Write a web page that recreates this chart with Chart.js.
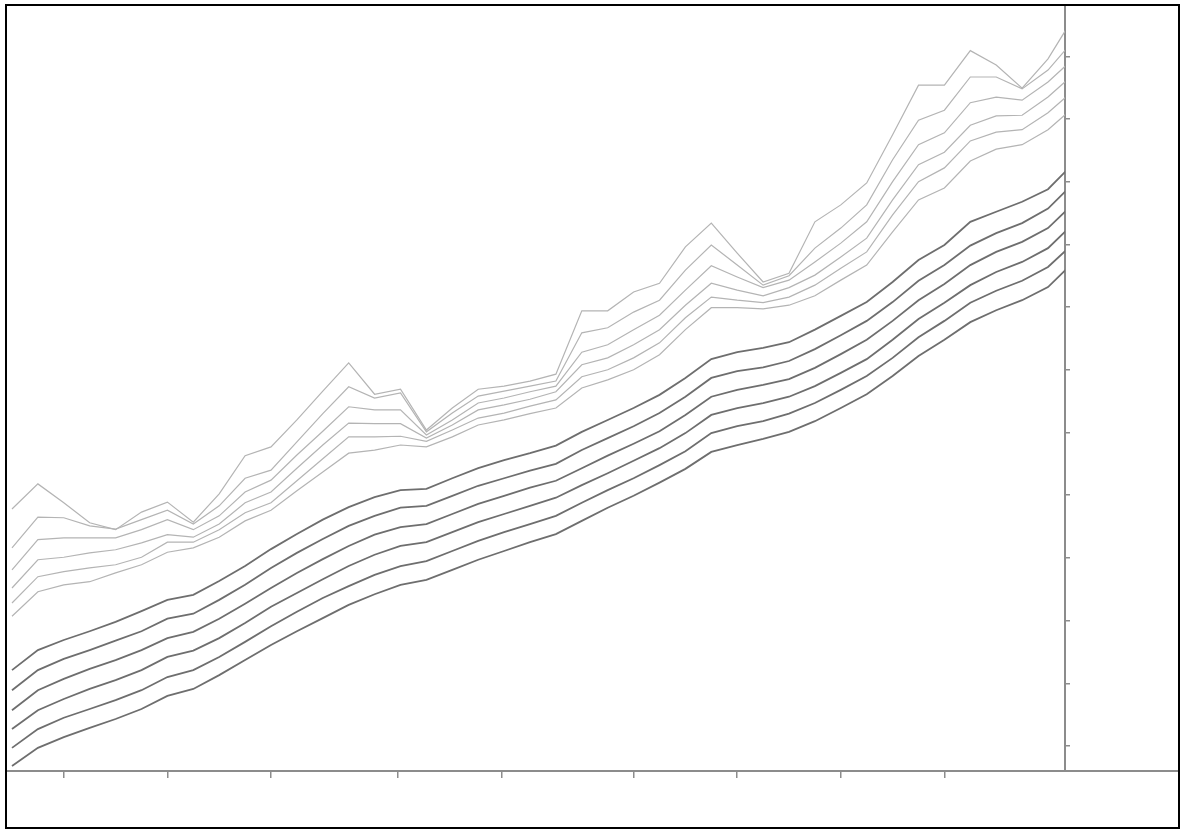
<!DOCTYPE html>
<html>
<head>
<meta charset="utf-8">
<script src="https://cdn.jsdelivr.net/npm/chart.js@4/dist/chart.umd.min.js"></script>
<style>
  html, body { margin: 0; padding: 0; background: #ffffff; }
  canvas { display: block; }
</style>
</head>
<body>
<canvas id="c" width="1181" height="830"></canvas>
<script>
// Period index (0..41) – the last period runs past the right axis and is clipped
const periods = Array.from({length: 42}, (_, i) => i);

// Tick positions on the period axis and the value axis (no labels in the source)
const xTickValues = [2, 6, 10, 14.9, 18.9, 24, 28, 32, 36];
const yTickValues = [10, 20, 30, 40, 50, 60, 70, 80, 90, 100, 110, 120];

// Upper (light) band lines, highest first
const upper1 = [47.8,51.8,48.8,45.6,44.5,47.3,48.9,45.7,50.2,56.3,57.7,62.0,66.6,71.1,66.1,66.9,60.4,63.9,66.9,67.4,68.2,69.3,79.4,79.4,82.4,83.8,89.6,93.4,88.6,84.0,85.4,93.6,96.3,99.8,107.5,115.4,115.4,120.9,118.6,114.9,119.6,126.3];
const upper2 = [41.6,46.5,46.4,45.1,44.6,46.1,47.6,45.4,48.3,52.7,54.0,58.5,63.0,67.3,65.5,66.3,60.1,63.1,65.8,66.6,67.4,68.2,75.9,76.7,79.2,81.1,85.9,89.9,86.7,83.5,85.0,89.4,92.6,96.3,103.5,109.8,111.4,116.7,116.7,114.8,117.8,122.6];
const upper3 = [38.1,42.9,43.2,43.2,43.2,44.5,46.1,44.5,46.7,50.5,52.4,56.4,60.2,64.1,63.6,63.6,59.6,62.0,64.7,65.5,66.5,67.4,72.8,74.0,76.4,78.7,82.7,86.6,84.8,83.1,84.3,87.2,90.2,93.6,100.0,105.9,107.8,112.6,113.5,113.0,115.9,119.7];
const upper4 = [35.2,39.7,40.1,40.8,41.3,42.4,43.7,43.3,45.4,48.8,50.5,54.3,58.0,61.5,61.4,61.4,59.1,61.2,63.6,64.4,65.3,66.5,70.8,71.9,74.0,76.4,80.3,83.8,82.7,81.8,83.1,85.1,88.0,91.0,97.1,102.7,104.7,109.0,110.5,110.6,113.5,117.2];
const upper5 = [32.8,37.0,37.8,38.4,38.9,40.1,42.5,42.5,44.5,47.2,48.8,52.3,55.8,59.3,59.3,59.4,58.6,60.4,62.3,63.1,64.2,65.2,68.9,70.0,71.9,74.3,78.3,81.6,81.1,80.7,81.6,83.5,86.2,88.8,94.7,100.0,102.2,106.5,107.9,108.3,111.0,114.6];
const upper6 = [30.7,34.6,35.7,36.2,37.6,38.9,40.9,41.6,43.3,45.9,47.6,50.7,53.7,56.7,57.2,58.0,57.7,59.3,61.2,62.0,63.0,63.9,67.1,68.4,70.0,72.4,76.4,79.9,79.9,79.7,80.3,81.8,84.3,86.7,92.0,97.1,99.0,103.3,105.2,105.9,108.3,111.9];

// Lower (dark) band lines, highest first
const lower1 = [22.1,25.3,26.9,28.3,29.8,31.5,33.3,34.1,36.3,38.7,41.4,43.8,46.1,48.1,49.7,50.8,51.0,52.7,54.3,55.6,56.7,57.9,60.1,62.0,63.9,66.0,68.7,71.7,72.8,73.5,74.4,76.4,78.6,80.8,84.0,87.5,89.9,93.6,95.2,96.8,98.8,103.0];
const lower2 = [18.9,22.1,23.9,25.3,26.8,28.3,30.3,31.1,33.3,35.7,38.4,40.8,43.0,45.1,46.7,48.0,48.3,49.9,51.5,52.7,53.9,55.0,57.2,59.1,61.0,63.1,65.7,68.7,69.8,70.4,71.4,73.3,75.5,77.8,80.8,84.2,86.7,89.8,91.8,93.4,95.7,99.8];
const lower3 = [15.7,18.9,20.7,22.3,23.7,25.3,27.2,28.2,30.3,32.7,35.2,37.6,39.8,41.9,43.7,44.9,45.4,47.0,48.6,49.9,51.2,52.3,54.3,56.3,58.2,60.2,62.8,65.7,66.8,67.6,68.5,70.3,72.5,74.8,77.8,81.1,83.7,86.7,88.8,90.4,92.6,96.6];
const lower4 = [12.7,15.7,17.5,19.1,20.5,22.1,24.2,25.2,27.2,29.6,32.2,34.4,36.6,38.7,40.5,41.9,42.5,44.1,45.7,47.0,48.3,49.6,51.6,53.5,55.5,57.5,59.9,62.8,63.9,64.7,65.7,67.4,69.5,71.7,74.8,78.1,80.7,83.5,85.6,87.2,89.4,93.4];
const lower5 = [9.7,12.7,14.5,15.9,17.3,18.9,21.0,22.1,24.2,26.6,29.1,31.4,33.6,35.5,37.3,38.7,39.5,41.1,42.7,44.1,45.4,46.7,48.8,50.8,52.7,54.8,57.0,59.9,61.0,61.8,63.0,64.7,66.8,69.0,71.9,75.2,77.8,80.7,82.6,84.2,86.4,90.2];
const lower6 = [6.8,9.7,11.4,12.9,14.3,15.9,18.0,19.1,21.3,23.7,26.1,28.3,30.4,32.5,34.2,35.7,36.5,38.1,39.7,41.1,42.5,43.8,45.9,48.0,49.9,52.0,54.2,56.9,58.0,59.0,60.1,61.8,63.9,66.1,69.0,72.2,74.8,77.6,79.5,81.1,83.2,87.2];

const upperSeries = [upper1, upper2, upper3, upper4, upper5, upper6];
const lowerSeries = [lower1, lower2, lower3, lower4, lower5, lower6];

function toPoints(arr) { return arr.map((v, i) => ({x: periods[i], y: v})); }

const datasets = [];
upperSeries.forEach((s, i) => datasets.push({
  label: 'upper ' + (i + 1), data: toPoints(s),
  borderColor: '#b4b4b4', borderWidth: 1.2, pointRadius: 0, tension: 0, fill: false, clip: 0
}));
lowerSeries.forEach((s, i) => datasets.push({
  label: 'lower ' + (i + 1), data: toPoints(s),
  borderColor: '#6e6e6e', borderWidth: 1.8, pointRadius: 0, tension: 0, fill: false, clip: 0
}));

const AXIS = '#8c8c8c';

const framePlugin = {
  id: 'frame',
  afterDraw(chart) {
    const ctx = chart.ctx;
    const a = chart.chartArea;
    ctx.save();
    // extend the horizontal axis to the frame on both sides
    ctx.strokeStyle = AXIS;
    ctx.lineWidth = 2;
    ctx.beginPath();
    ctx.moveTo(6, a.bottom);
    ctx.lineTo(a.left, a.bottom);
    ctx.moveTo(a.right, a.bottom);
    ctx.lineTo(1179, a.bottom);
    ctx.stroke();
    // outer frame
    ctx.strokeStyle = '#000000';
    ctx.lineWidth = 2;
    ctx.strokeRect(6, 5, 1173, 823);
    ctx.restore();
  }
};

new Chart(document.getElementById('c'), {
  type: 'line',
  data: { datasets },
  plugins: [framePlugin],
  options: {
    responsive: false,
    animation: false,
    layout: { padding: { left: 10, top: 5, right: 0, bottom: 0 } },
    plugins: { legend: { display: false }, tooltip: { enabled: false } },
    scales: {
      x: {
        type: 'linear', position: 'bottom',
        min: -0.077, max: 40.656,
        afterBuildTicks(scale) { scale.ticks = xTickValues.map(v => ({value: v})); },
        afterFit(scale) { scale.height = 59; },
        ticks: { display: false },
        grid: { display: true, drawOnChartArea: false, drawTicks: true, tickLength: 7, color: AXIS, lineWidth: 1.5 },
        border: { display: true, color: AXIS, width: 2 }
      },
      y: {
        type: 'linear', position: 'right',
        min: 6.01, max: 128.18,
        afterBuildTicks(scale) { scale.ticks = yTickValues.map(v => ({value: v})); },
        afterFit(scale) { scale.width = 116; },
        ticks: { display: false },
        grid: { display: true, drawOnChartArea: false, drawTicks: true, tickLength: 5, color: AXIS, lineWidth: 1.5 },
        border: { display: true, color: AXIS, width: 2 }
      }
    }
  }
});
</script>
</body>
</html>
